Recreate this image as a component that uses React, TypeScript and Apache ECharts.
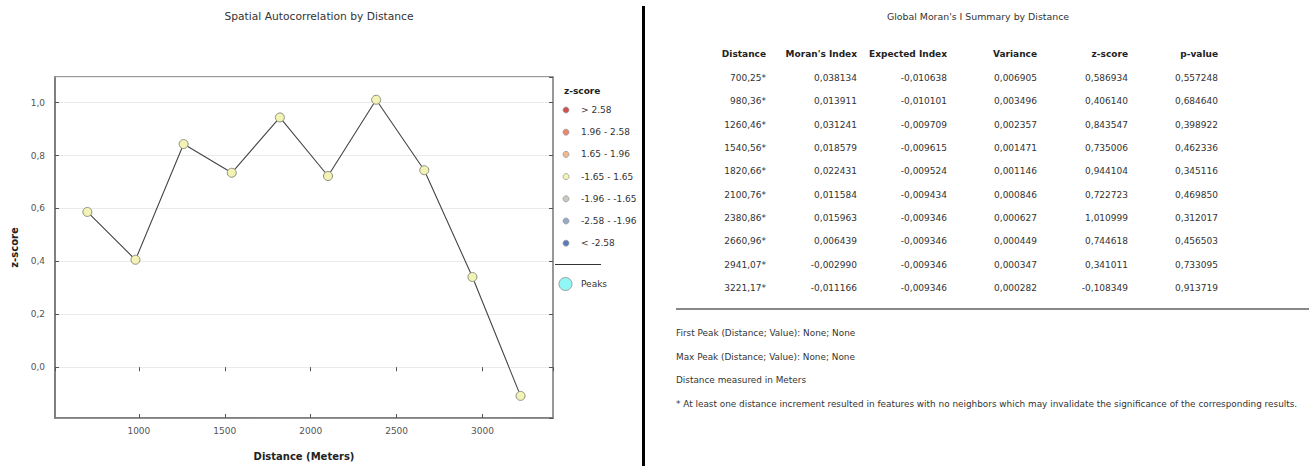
import React, { useEffect, useRef } from "react";
import * as echarts from "echarts";

// Incremental spatial autocorrelation results
const distances = [700.25, 980.36, 1260.46, 1540.56, 1820.66, 2100.76, 2380.86, 2660.96, 2941.07, 3221.17];
const moransIndex = [0.038134, 0.013911, 0.031241, 0.018579, 0.022431, 0.011584, 0.015963, 0.006439, -0.00299, -0.011166];
const expectedIndex = [-0.010638, -0.010101, -0.009709, -0.009615, -0.009524, -0.009434, -0.009346, -0.009346, -0.009346, -0.009346];
const variance = [0.006905, 0.003496, 0.002357, 0.001471, 0.001146, 0.000846, 0.000627, 0.000449, 0.000347, 0.000282];
const zScores = [0.586934, 0.40614, 0.843547, 0.735006, 0.944104, 0.722723, 1.010999, 0.744618, 0.341011, -0.108349];
const pValues = [0.557248, 0.68464, 0.398922, 0.462336, 0.345116, 0.46985, 0.312017, 0.456503, 0.733095, 0.913719];

const tableHeaders = ["Distance", "Moran's Index", "Expected Index", "Variance", "z-score", "p-value"];

const zClasses = ["> 2.58", "1.96 - 2.58", "1.65 - 1.96", "-1.65 - 1.65", "-1.96 - -1.65", "-2.58 - -1.96", "< -2.58"];
const zClassColors = ["#d0504f", "#e88a6a", "#f2b98a", "#f3f3b5", "#c8c9c0", "#96a8c8", "#5a7ab8"];

const footerLines = [
  "First Peak (Distance; Value): None; None",
  "Max Peak (Distance; Value): None; None",
  "Distance measured in Meters",
  "* At least one distance increment resulted in features with no neighbors which may invalidate the significance of the corresponding results.",
];

const FONT = "DejaVu Sans";
const comma = (v: number, d: number) => v.toFixed(d).replace(".", ",");

export default function App() {
  const ref = useRef<HTMLDivElement>(null);

  useEffect(() => {
    if (!ref.current) return;
    const chart = echarts.init(ref.current, undefined, { renderer: "svg" });

    const graphics: any[] = [];

    // Divider between the chart and the summary table
    graphics.push({
      type: "line",
      shape: { x1: 643.5, y1: 6, x2: 643.5, y2: 466 },
      style: { stroke: "#000", lineWidth: 3 },
    });

    // Chart titles
    graphics.push({
      type: "text",
      x: 319,
      y: 16,
      style: {
        text: "Spatial Autocorrelation by Distance",
        font: `10.7px '${FONT}'`,
        fill: "#333",
        align: "center",
        verticalAlign: "middle",
      },
    });
    graphics.push({
      type: "text",
      x: 978,
      y: 16,
      style: {
        text: "Global Moran's I Summary by Distance",
        font: `9.4px '${FONT}'`,
        fill: "#333",
        align: "center",
        verticalAlign: "middle",
      },
    });

    // Legend
    graphics.push({
      type: "text",
      x: 564,
      y: 91,
      style: { text: "z-score", font: `bold 9px '${FONT}'`, fill: "#222", verticalAlign: "middle" },
    });
    zClasses.forEach((label, i) => {
      const y = 110 + i * 22.2;
      graphics.push({
        type: "circle",
        shape: { cx: 566, cy: y, r: 3 },
        style: { fill: zClassColors[i], stroke: "#999", lineWidth: 0.8 },
      });
      graphics.push({
        type: "text",
        x: 581,
        y,
        style: { text: label, font: `9px '${FONT}'`, fill: "#333", verticalAlign: "middle" },
      });
    });
    graphics.push({
      type: "line",
      shape: { x1: 555, y1: 264.5, x2: 601, y2: 264.5 },
      style: { stroke: "#333", lineWidth: 1 },
    });
    graphics.push({
      type: "circle",
      shape: { cx: 565.5, cy: 284, r: 6.5 },
      style: { fill: "#90f7f7", stroke: "#a0a0a0", lineWidth: 1 },
    });
    graphics.push({
      type: "text",
      x: 581,
      y: 284,
      style: { text: "Peaks", font: `9px '${FONT}'`, fill: "#333", verticalAlign: "middle" },
    });

    // Summary table
    const colRight = [766, 857, 947, 1037, 1128, 1218];
    tableHeaders.forEach((h, c) => {
      graphics.push({
        type: "text",
        x: colRight[c],
        y: 54,
        style: { text: h, font: `bold 9px '${FONT}'`, fill: "#222", align: "right", verticalAlign: "middle" },
      });
    });
    distances.forEach((d, r) => {
      const cells = [
        comma(d, 2) + "*",
        comma(moransIndex[r], 6),
        comma(expectedIndex[r], 6),
        comma(variance[r], 6),
        comma(zScores[r], 6),
        comma(pValues[r], 6),
      ];
      const y = 78 + r * 23.33;
      cells.forEach((t, c) => {
        graphics.push({
          type: "text",
          x: colRight[c],
          y,
          style: { text: t, font: `9px '${FONT}'`, fill: "#333", align: "right", verticalAlign: "middle" },
        });
      });
    });
    graphics.push({
      type: "line",
      shape: { x1: 676, y1: 309, x2: 1309, y2: 309 },
      style: { stroke: "#888", lineWidth: 2 },
    });
    footerLines.forEach((t, i) => {
      graphics.push({
        type: "text",
        x: 676,
        y: 333 + i * 23.7,
        style: { text: t, font: `8.9px '${FONT}'`, fill: "#333", verticalAlign: "middle" },
      });
    });

    const yMin = -0.192;
    const yMax = 1.097;

    const option: any = {
      animation: false,
      backgroundColor: "#fff",
      textStyle: { fontFamily: FONT },
      grid: {
        left: 55,
        top: 77,
        width: 498,
        height: 346,
        show: true,
        borderColor: "#777",
        borderWidth: 1.5,
        backgroundColor: "transparent",
      },
      xAxis: [
        {
          type: "value",
          min: 512,
          max: 3410,
          name: "Distance (Meters)",
          nameLocation: "middle",
          nameGap: 33,
          nameTextStyle: { fontFamily: FONT, fontSize: 10, fontWeight: "bold", color: "#222" },
          axisLine: { show: true, onZero: false, lineStyle: { color: "#777", width: 1.5 } },
          axisTick: { show: true, inside: true, length: 4, lineStyle: { color: "#555" } },
          axisLabel: {
            showMinLabel: false,
            showMaxLabel: false,
            fontFamily: FONT,
            fontSize: 9,
            color: "#555",
            margin: 8,
            formatter: (v: number) => String(v),
          },
          splitLine: { show: false },
        },
        {
          type: "value",
          position: "top",
          min: 512,
          max: 3410,
          axisLine: { show: false },
          axisTick: { show: true, inside: true, length: 4, lineStyle: { color: "#555" } },
          axisLabel: { show: false },
          splitLine: { show: false },
        },
      ],
      yAxis: [
        {
          type: "value",
          min: yMin,
          max: yMax,
          splitNumber: 6,
          name: "z-score",
          nameLocation: "middle",
          nameGap: 36,
          nameTextStyle: { fontFamily: FONT, fontSize: 10, fontWeight: "bold", color: "#222" },
          axisLine: { show: true, onZero: false, lineStyle: { color: "#777", width: 1.5 } },
          axisTick: { show: true, inside: true, length: 4, lineStyle: { color: "#555" } },
          axisLabel: {
            showMinLabel: false,
            showMaxLabel: false,
            fontFamily: FONT,
            fontSize: 9,
            color: "#555",
            margin: 10,
            formatter: (v: number) => comma(v, 1),
          },
          splitLine: { show: true, lineStyle: { color: "#ebebeb", width: 1 } },
        },
        {
          type: "value",
          position: "right",
          min: yMin,
          max: yMax,
          splitNumber: 6,
          axisLine: { show: false },
          axisTick: { show: true, inside: true, length: 4, lineStyle: { color: "#555" } },
          axisLabel: { show: false },
          splitLine: { show: false },
        },
      ],
      series: [
        {
          type: "line",
          name: "z-score",
          xAxisIndex: 0,
          yAxisIndex: 0,
          data: distances.map((d, i) => [d, zScores[i]]),
          symbol: "circle",
          symbolSize: 9,
          lineStyle: { color: "#444", width: 1.1 },
          itemStyle: { color: "#f3f3b5", borderColor: "#8f8f80", borderWidth: 1 },
          z: 3,
        },
      ],
      graphic: graphics,
    };

    chart.setOption(option);
    return () => chart.dispose();
  }, []);

  return (
    <div
      ref={ref}
      style={{ position: "fixed", left: 0, top: 0, width: 1312, height: 466, background: "#fff" }}
    />
  );
}
